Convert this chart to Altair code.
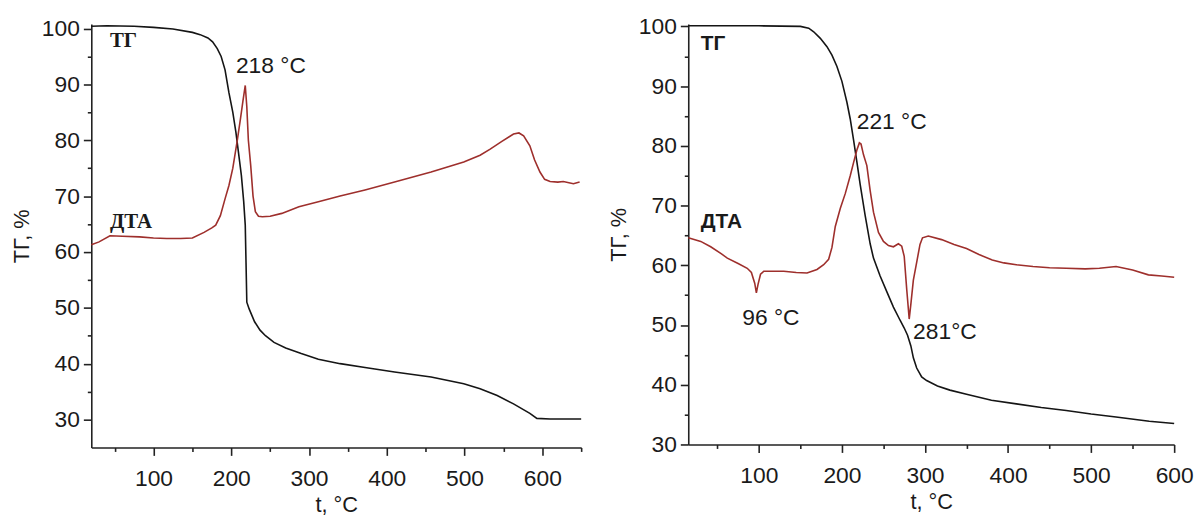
import altair as alt
import pandas as pd

# ---------------- Left panel data ----------------
L_TG_T = [20, 40, 75, 100, 125, 150, 160, 170, 176, 182, 187, 192, 197, 202, 206, 210, 213, 216, 218, 219, 220,
          223, 230, 237, 244, 255, 270, 290, 312, 340, 372, 410, 457, 499, 520, 542, 563, 584, 593, 610, 630, 650]
L_TG_V = [100.4, 100.5, 100.4, 100.2, 99.9, 99.3, 98.9, 98.3, 97.6, 96.4, 95.0, 92.6, 88.5, 85.0, 81.4, 77.0,
          73.7, 69.0, 64.8, 58.0, 51.0, 49.8, 47.5, 46.0, 45.0, 43.8, 42.8, 41.8, 40.8, 40.0, 39.3, 38.5, 37.6,
          36.4, 35.5, 34.3, 32.8, 31.1, 30.2, 30.1, 30.1, 30.1]

L_DTA_T = [20, 30, 44, 60, 82, 100, 117, 135, 150, 165, 175, 180, 186, 192, 197, 202, 208, 212, 215, 218, 220,
           222, 225, 228, 231, 235, 240, 250, 265, 287, 312, 340, 372, 410, 457, 499, 520, 533, 548, 563, 570,
           576, 584, 590, 597, 603, 610, 620, 627, 640, 648]
L_DTA_V = [61.3, 61.8, 62.9, 62.8, 62.7, 62.5, 62.4, 62.4, 62.5, 63.5, 64.3, 64.8, 66.5, 69.5, 71.9, 75.0, 80.2,
           84.0, 87.0, 89.8, 86.0, 80.0, 75.5, 70.0, 67.2, 66.4, 66.3, 66.4, 66.9, 68.1, 69.0, 70.0, 71.1, 72.5,
           74.3, 76.1, 77.3, 78.4, 79.8, 81.1, 81.3, 80.8, 79.0, 76.5, 74.3, 73.0, 72.6, 72.5, 72.6, 72.2, 72.5]

L_ANN_TEXT = ["218 °C"]
L_ANN_T = [206]
L_ANN_V = [93.2]

L_LAB_TEXT = ["ТГ", "ДТА"]
L_LAB_T = [44, 44]
L_LAB_V = [97.7, 65.3]

# ---------------- Right panel data ----------------
R_TG_T = [15, 50, 100, 150, 160, 166, 174, 182, 188, 194, 200, 206, 210, 214, 218, 222, 228, 234, 238, 246, 254,
          262, 270, 275, 279, 283, 286, 290, 296, 302, 315, 330, 350, 380, 410, 440, 470, 500, 530, 570, 600]
R_TG_V = [100.1, 100.1, 100.1, 100.0, 99.7, 99.1, 98.0, 96.6, 95.2, 93.3, 90.8, 87.3, 84.5, 81.0, 77.3, 73.5,
          68.3, 63.6, 61.2, 58.2, 55.6, 53.0, 50.8, 49.5, 48.3, 46.5, 44.5, 42.8, 41.3, 40.7, 39.8, 39.1, 38.4,
          37.4, 36.8, 36.2, 35.7, 35.1, 34.6, 33.9, 33.5]

R_DTA_T = [15, 30, 42, 55, 62, 75, 86, 91, 95, 97, 99, 102, 106, 115, 130, 145, 158, 170, 178, 184, 188, 192,
           198, 204, 210, 214, 218, 221, 223, 226, 230, 234, 238, 244, 250, 256, 262, 268, 272, 275, 278, 281,
           283, 286, 290, 294, 297, 304, 320, 335, 350, 365, 381, 395, 410, 430, 450, 470, 493, 510, 530, 550,
           569, 585, 600]
R_DTA_V = [64.6, 64.0, 63.1, 61.9, 61.2, 60.3, 59.5, 58.8, 57.0, 55.4, 56.8, 58.5, 59.0, 59.0, 59.0, 58.8, 58.7,
           59.3, 60.1, 61.0, 63.0, 66.5, 69.5, 72.0, 75.0, 77.2, 79.3, 80.5, 80.3, 78.5, 76.7, 72.5, 68.9, 65.5,
           64.0, 63.3, 63.1, 63.6, 63.2, 61.5, 56.0, 51.0, 53.5, 57.5, 60.5, 63.5, 64.6, 64.9, 64.3, 63.5, 62.8,
           61.8, 60.9, 60.4, 60.1, 59.8, 59.6, 59.5, 59.4, 59.5, 59.8, 59.2, 58.4, 58.2, 58.0]

R_ANN_TEXT = ["221 °C", "96 °C", "281°C"]
R_ANN_T = [217.8, 80, 285.7]
R_ANN_V = [84.0, 51.2, 48.9]

R_LAB_TEXT = ["ТГ", "ДТА"]
R_LAB_T = [30, 30]
R_LAB_V = [97.1, 67.3]

BLACK = "#151515"
RED = "#9e2f2c"
FONT = "Liberation Sans"


def tick_cond(mod, big, small):
    return {"condition": {"test": f"datum.value % {mod} === 0", "value": big}, "value": small}


def panel(tg_t, tg_v, dta_t, dta_v, ann_text, ann_t, ann_v, lab_text, lab_t, lab_v,
          xdom, ydom, xvals, yvals, width, height, lab_font, lab_size):
    x = alt.X("t:Q", scale=alt.Scale(domain=xdom, nice=False, zero=False),
              axis=alt.Axis(values=xvals, title="t, °C", grid=False,
                            labelExpr="datum.value % 100 === 0 ? datum.label : ''",
                            tickSize=tick_cond(100, 8, 4), labelFlush=False, labelOverlap=False,
                            labelPadding=12, titlePadding=5))
    y = alt.Y("v:Q", scale=alt.Scale(domain=ydom, nice=False, zero=False),
              axis=alt.Axis(values=yvals, title="ТГ, %", grid=False,
                            labelExpr="datum.value % 10 === 0 ? datum.label : ''",
                            tickSize=tick_cond(10, 8, 4), labelOverlap=False,
                            labelPadding=4, titlePadding=8))
    tg = alt.Chart(pd.DataFrame({"t": tg_t, "v": tg_v})).mark_line(
        color=BLACK, strokeWidth=1.6).encode(x=x, y=y)
    dta = alt.Chart(pd.DataFrame({"t": dta_t, "v": dta_v})).mark_line(
        color=RED, strokeWidth=1.6).encode(x=x, y=y)
    ann = alt.Chart(pd.DataFrame({"t": ann_t, "v": ann_v, "s": ann_text})).mark_text(
        align="left", baseline="middle", font=FONT, fontSize=23, color="#1a1a1a").encode(
        x=x, y=y, text="s:N")
    lab = alt.Chart(pd.DataFrame({"t": lab_t, "v": lab_v, "s": lab_text})).mark_text(
        align="left", baseline="middle", font=lab_font, fontSize=lab_size, fontWeight="bold",
        color="#1a1a1a").encode(x=x, y=y, text="s:N")
    return alt.layer(tg, dta, ann, lab).properties(width=width, height=height)


left = panel(L_TG_T, L_TG_V, L_DTA_T, L_DTA_V, L_ANN_TEXT, L_ANN_T, L_ANN_V,
             L_LAB_TEXT, L_LAB_T, L_LAB_V,
             [20, 650], [25, 100.8],
             [50, 100, 150, 200, 250, 300, 350, 400, 450, 500, 550, 600, 650],
             [30, 35, 40, 45, 50, 55, 60, 65, 70, 75, 80, 85, 90, 95, 100],
             494, 427, "Liberation Serif", 21)

right = panel(R_TG_T, R_TG_V, R_DTA_T, R_DTA_V, R_ANN_TEXT, R_ANN_T, R_ANN_V,
              R_LAB_TEXT, R_LAB_T, R_LAB_V,
              [15, 600], [30, 100.4],
              [50, 100, 150, 200, 250, 300, 350, 400, 450, 500, 550, 600],
              [30, 35, 40, 45, 50, 55, 60, 65, 70, 75, 80, 85, 90, 95, 100],
              490, 424, FONT, 21)

chart = alt.hconcat(left, right, spacing=22).properties(
    padding={"left": 2, "top": 5, "right": 0, "bottom": 0}
).configure_view(stroke=None).configure_axis(
    domainColor="#222", domainWidth=1.6, tickColor="#222", tickWidth=1.6,
    labelFont=FONT, labelFontSize=23, labelColor="#1a1a1a",
    titleFont=FONT, titleFontSize=22, titleFontWeight="normal", titleColor="#1a1a1a"
)

chart.save("out.html", embed_options={"renderer": "svg", "actions": False})
